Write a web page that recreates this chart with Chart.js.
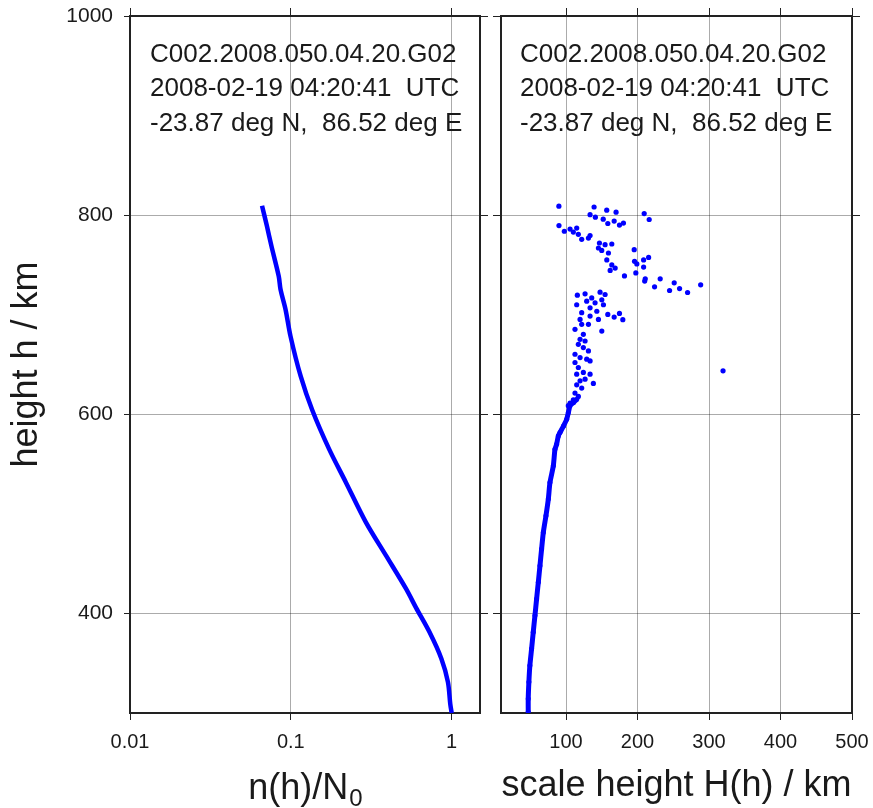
<!DOCTYPE html>
<html>
<head>
<meta charset="utf-8">
<script src="https://cdn.jsdelivr.net/npm/chart.js@4.4.1/dist/chart.umd.min.js"></script>
<style>
body { margin: 0; background: #fff; }
#wrap { position: relative; width: 873px; height: 808px; }
canvas { position: absolute; left: 0; top: 0; }
</style>
</head>
<body>
<div id="wrap">
<canvas id="left" width="873" height="808"></canvas>
<canvas id="right" width="873" height="808"></canvas>
</div>
<script>
// popis profilu
var infoLines = ["C002.2008.050.04.20.G02", "2008-02-19 04:20:41  UTC", "-23.87 deg N,  86.52 deg E"];

// lavy graf - n(h)/N0
var hLeft = [300, 309, 331, 354.5, 381, 405.6, 424.6, 458, 491.5, 531.6, 565, 604, 638.5, 678.5, 705.3, 725.3, 738.6, 768.7, 789, 809.5];
var nLeft = [1.0, 0.98, 0.948, 0.863, 0.729, 0.601, 0.521, 0.391, 0.293, 0.220, 0.173, 0.136, 0.115, 0.0995, 0.0927, 0.0863, 0.0841, 0.0758, 0.071, 0.0662];
var xTicksLeft = [0.01, 0.1, 1];
var xLabelsLeft = ["0.01", "0.1", "1"];

// pravy graf - husty stlpec dole
var hCol = [301, 314.4, 331.1, 347.8, 364.5, 381.2, 397.9, 414.6, 431.3, 448, 464.7, 481.4, 498.1, 514.8, 531.5, 548.2, 564.9, 569.9, 578.3, 581.6, 588.3, 595, 601.7, 608.6, 611.7, 615];
var HCol = [47.1, 47.1, 48, 49.4, 51.8, 54.1, 56.5, 58.8, 61.2, 63.5, 65.8, 68.2, 71.9, 75.2, 77.5, 82.2, 84.5, 86.8, 89.2, 91.5, 96.5, 100.9, 103.2, 105.6, 110.2, 115];

// pravy graf - rozptylene body
var HPts = [90, 139.2, 133.6, 141, 156.9, 170, 152, 158.4, 167.3, 174.7, 180.3, 209.3, 216.3,
    90.1, 97.6, 105.6, 110.2, 114.9, 117.2, 121.9, 131.3, 133.6, 146.7, 154.6, 164, 145.3, 149.9, 159.3, 157, 164, 168.7, 161.7, 181.7,
    195.3, 195.8, 199, 208.5, 215.5, 208.5, 197.6, 210.8, 210, 231.7, 223.8, 251.3, 244.8, 258.8, 270, 288.3,
    115.8, 126.6, 147.6, 154.6, 135.9, 128.9, 140.6, 150, 114.9, 152.3, 133.6, 143, 121.9, 133.6, 145.3, 158.4, 167.3, 174.7, 179.4, 150,
    119.6, 121.9, 131.3, 112.5, 124.2, 119.6, 126.6, 117.2, 124.2, 131.3, 112.5, 119.6, 128.9, 133.6, 112.5, 117.2, 124.2, 133.6, 114.9,
    119.6, 126.6, 138.2, 114.9, 121.9, 112.5, 117.2, 110.2, 105.6, 103.2, 319.6];
var hPts = [809, 808.2, 800.5, 798, 805, 803, 796, 791.6, 794, 790, 792, 801.6, 795.6,
    789.5, 783.8, 786, 783, 787, 780.7, 775.7, 777, 779.5, 772, 770.3, 771, 767, 764.6, 762, 755, 750, 746.8, 744.5, 739,
    765.3, 753.6, 751, 755, 757.5, 747.8, 742, 736, 733.8, 736, 728, 732, 724.3, 726.3, 722.3, 730,
    719.6, 721, 722.6, 720.3, 716.9, 713.6, 711.9, 715, 710, 710, 706.9, 703.5, 702, 698.6, 695.3, 700.3, 697.6, 701.3, 695, 683.6,
    695.3, 690.3, 690.3, 685.3, 680.3, 675.3, 673.6, 670.3, 667, 663.6, 660.3, 657, 655.3, 653.6, 652, 647, 642, 640.3, 640.3,
    633.6, 635.3, 631, 629.6, 626.3, 621.3, 617.9, 614.6, 611.2, 608.6, 643.6];
var xTicksRight = [100, 200, 300, 400, 500];
var yTicks = [400, 600, 800, 1000];

var FONT = "'Liberation Sans', Arial, sans-serif";
var TEXT = "#1a1a1a";
var BORDER = "#222";
var GRID = "rgba(0,0,0,0.33)";

function zip(xs, ys) {
    var out = [];
    for (var i = 0; i < xs.length; i++) out.push({x: xs[i], y: ys[i]});
    return out;
}

function setTicks(list) {
    return function (scale) {
        scale.ticks = list.map(function (v) { return {value: v}; });
    };
}

// pevna velkost osi, bez extra okraja pre popisky
function fixW(w) {
    return function (scale) { scale.width = w; scale.paddingTop = 0; scale.paddingBottom = 0; };
}
function fixH(h) {
    return function (scale) { scale.height = h; scale.paddingLeft = 0; scale.paddingRight = 0; };
}

function edgeAxis(type, pos, min, max, ticks, size) {
    var horiz = (pos === "top" || pos === "bottom");
    return {
        type: type, position: pos, min: min, max: max,
        afterBuildTicks: setTicks(ticks),
        afterFit: horiz ? fixH(size) : fixW(size),
        ticks: {display: false},
        grid: {drawOnChartArea: false, tickLength: size, tickColor: BORDER, tickWidth: 1},
        border: {display: true, color: BORDER, width: 2}
    };
}

// text v hornom rohu + nazov osi s indexom
function infoPlugin(x0, subTitle) {
    return {
        id: "info",
        afterDraw: function (chart) {
            var ctx = chart.ctx;
            ctx.save();
            ctx.fillStyle = TEXT;
            ctx.font = "26px " + FONT;
            ctx.textAlign = "left";
            ctx.textBaseline = "alphabetic";
            var ys = [62, 96, 131];
            for (var i = 0; i < infoLines.length; i++) ctx.fillText(infoLines[i], x0, ys[i]);
            if (subTitle) {
                var a = chart.chartArea;
                ctx.font = "36px " + FONT;
                var w1 = ctx.measureText("n(h)/N").width;
                ctx.font = "24px " + FONT;
                var w2 = ctx.measureText("0").width;
                var sx = (a.left + a.right) / 2 - (w1 + w2) / 2;
                ctx.font = "36px " + FONT;
                ctx.fillText("n(h)/N", sx, 799);
                ctx.font = "24px " + FONT;
                ctx.fillText("0", sx + w1 + 1, 806);
            }
            ctx.restore();
        }
    };
}

Chart.defaults.font.family = FONT;
Chart.defaults.color = TEXT;

var baseOpts = {
    responsive: false,
    animation: false,
    devicePixelRatio: 1,
    plugins: {legend: {display: false}, tooltip: {enabled: false}}
};

// lavy panel
new Chart(document.getElementById("left"), {
    type: "scatter",
    data: {
        datasets: [{
            data: zip(nLeft, hLeft),
            showLine: true,
            borderColor: "#0000ff",
            borderWidth: 4.5,
            pointRadius: 0,
            tension: 0.3
        }]
    },
    options: Object.assign({}, baseOpts, {
        layout: {padding: {left: 0, top: 8, right: 385, bottom: 0}},
        scales: {
            x: {
                type: "logarithmic", position: "bottom", min: 0.01, max: 1.5,
                afterBuildTicks: setTicks(xTicksLeft),
                afterFit: fixH(95),
                ticks: {
                    font: {size: 20}, padding: 10, maxRotation: 0, autoSkip: false,
                    callback: function (v, i) { return xLabelsLeft[i]; }
                },
                grid: {color: GRID, lineWidth: 1, tickLength: 7, tickColor: BORDER},
                border: {display: true, color: BORDER, width: 2}
            },
            xt: edgeAxis("logarithmic", "top", 0.01, 1.5, xTicksLeft, 8),
            y: {
                type: "linear", position: "left", min: 300, max: 1000,
                afterBuildTicks: setTicks(yTicks),
                afterFit: fixW(130),
                ticks: {font: {size: 21}, padding: 11, callback: function (v) { return String(v); }},
                grid: {color: GRID, lineWidth: 1, tickLength: 6, tickColor: BORDER},
                border: {display: true, color: BORDER, width: 2},
                title: {display: true, text: "height h / km", font: {size: 36}, color: TEXT, padding: {top: 5, bottom: 0}}
            },
            yr: edgeAxis("linear", "right", 300, 1000, yTicks, 8)
        }
    }),
    plugins: [infoPlugin(150, true)]
});

// pravy panel
new Chart(document.getElementById("right"), {
    type: "scatter",
    data: {
        datasets: [{
            data: zip(HCol, hCol),
            showLine: true,
            borderColor: "#0000ff",
            borderWidth: 5,
            backgroundColor: "#0000ff",
            pointRadius: 2.5,
            pointBorderWidth: 0,
            tension: 0.2
        }, {
            data: zip(HPts, hPts),
            backgroundColor: "#0000ff",
            pointRadius: 2.6,
            pointBorderWidth: 0
        }]
    },
    options: Object.assign({}, baseOpts, {
        layout: {padding: {left: 493, top: 8, right: 13, bottom: 0}},
        scales: {
            x: {
                type: "linear", position: "bottom", min: 9, max: 500,
                afterBuildTicks: setTicks(xTicksRight),
                afterFit: fixH(95),
                ticks: {font: {size: 20}, padding: 10, maxRotation: 0, autoSkip: false,
                    callback: function (v) { return String(v); }},
                grid: {color: GRID, lineWidth: 1, tickLength: 7, tickColor: BORDER},
                border: {display: true, color: BORDER, width: 2},
                title: {display: true, text: "scale height H(h) / km", font: {size: 36}, color: TEXT, padding: {top: 0, bottom: 0}}
            },
            xt: edgeAxis("linear", "top", 9, 500, xTicksRight, 8),
            y: {
                type: "linear", position: "left", min: 300, max: 1000,
                afterBuildTicks: setTicks(yTicks),
                afterFit: fixW(8),
                ticks: {display: false},
                grid: {color: GRID, lineWidth: 1, tickLength: 8, tickColor: BORDER},
                border: {display: true, color: BORDER, width: 2}
            },
            yr: edgeAxis("linear", "right", 300, 1000, yTicks, 8)
        }
    }),
    plugins: [infoPlugin(520, false)]
});
</script>
</body>
</html>
